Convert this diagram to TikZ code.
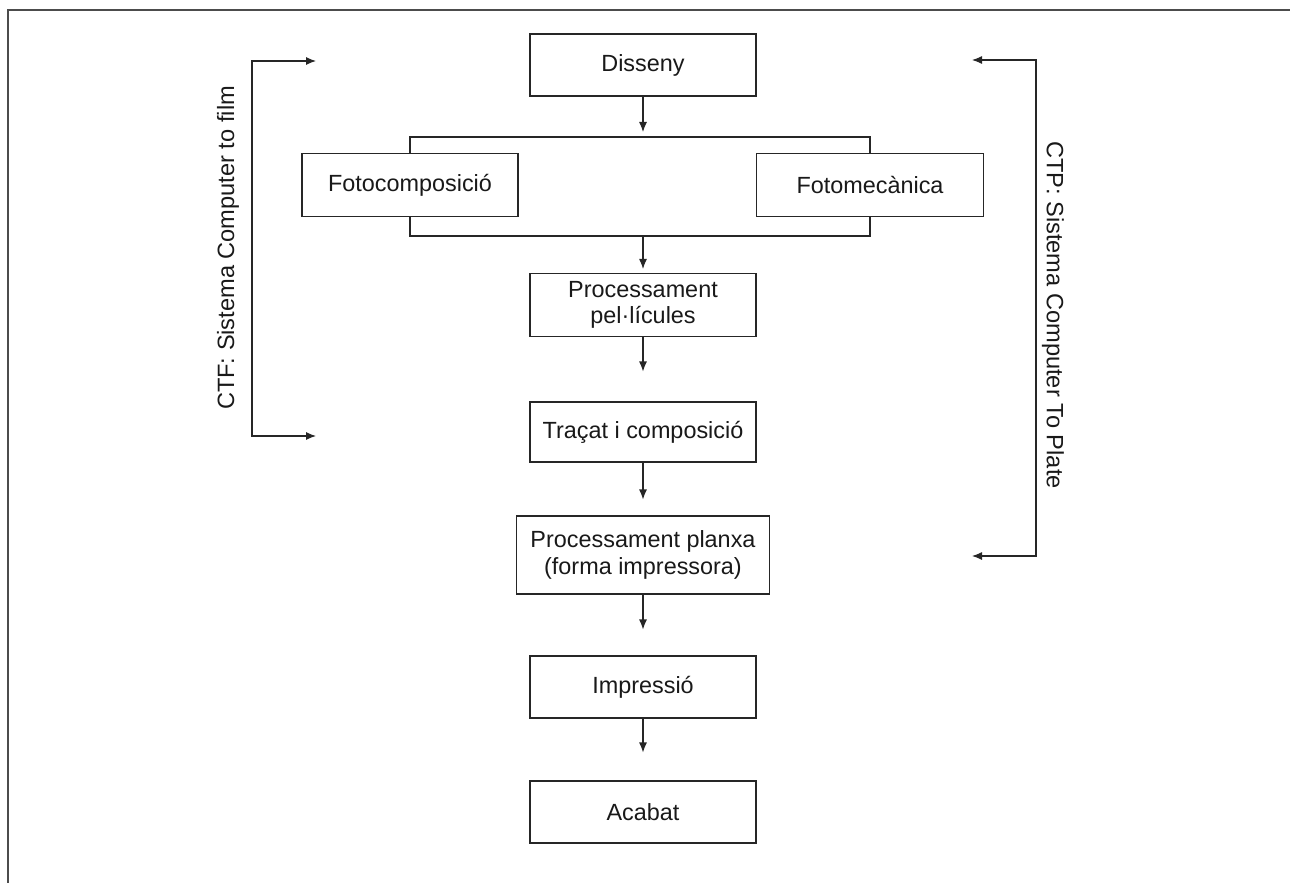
\documentclass[tikz,border=0pt]{standalone}
\usepackage{fontspec}
\setmainfont{Liberation Sans}
\usepackage{tikz}
\usetikzlibrary{scopes,arrows.meta}

\begin{document}
\begin{tikzpicture}[
    x=0.5pt,y=-0.5pt,
    arr/.style={-{Latex[length=5pt,width=4pt]},draw=black!85,line width=0.55pt},
    ln/.style={draw=black!85,line width=0.55pt},
    b/.style={rectangle,draw=black!85,fill=white,line width=0.55pt,minimum width=113pt,minimum height=31pt,align=center,inner sep=2pt,font=\fontsize{11.7}{13.2}\selectfont,text=black!90},
    lbl/.style={font=\fontsize{11.8}{13.5}\selectfont,text=black!90},
]
    \useasboundingbox (0,0) rectangle (1290,883);
    \draw[black!70,line width=0.7pt] (1290,10) -- (8,10) -- (8,883);

    \node[b] (disseny) at (643,65) {Disseny};
    \node[b,minimum width=108pt,minimum height=31.5pt] (fotocomp) at (410,185) {Fotocomposició};
    \node[b,minimum width=113.5pt,minimum height=31.5pt] (fotomec) at (870,185) {Fotomecànica};
    \node[b,minimum height=31.5pt] (pelli) at (643,305) {Processament\\pel·lícules};
    \node[b,minimum height=30pt] (tracat) at (643,432) {Traçat i composició};
    \node[b,minimum width=126.5pt,minimum height=39pt] (planxa) at (643,555) {Processament planxa\\(forma impressora)};
    \node[b] (impressio) at (643,687) {Impressió};
    \node[b] (acabat) at (643,812) {Acabat};

    \coordinate (fork) at (643,137);
    \coordinate (join) at (643,236);
    \draw[ln] (fotocomp.north) -- (fotocomp.north |- fork) -- (fotomec.north |- fork) -- (fotomec.north);
    \draw[ln] (fotocomp.south) -- (fotocomp.south |- join) -- (fotomec.south |- join) -- (fotomec.south);

    {[arr]
        \draw[shorten >=2.5pt] (disseny) -- (fork);
        \draw[shorten >=2pt] (join) -- (pelli);
        \draw[shorten >=15pt] (pelli) -- (tracat);
        \draw[shorten >=8pt] (tracat) -- (planxa);
        \draw[shorten >=13pt] (planxa) -- (impressio);
        \draw[shorten >=14pt] (impressio) -- (acabat);
    }

    \coordinate (ctfin) at (316,61);
    \coordinate (ctfout) at (316,436);
    \coordinate (ctpin) at (972,60);
    \coordinate (ctpout) at (972,556);
    \draw[arr,{Latex[length=5pt,width=4pt]}-{Latex[length=5pt,width=4pt]}] (ctfin) -- (252,61) -- (252,436) -- (ctfout);
    \draw[arr,{Latex[length=5pt,width=4pt]}-{Latex[length=5pt,width=4pt]}] (ctpin) -- (1036,60) -- (1036,556) -- (ctpout);

    \node[lbl,rotate=90] (ctf) at (228,248) {CTF: Sistema Computer to film};
    \node[lbl,rotate=-90] (ctp) at (1053,315) {CTP: Sistema Computer To Plate};
\end{tikzpicture}
\end{document}
